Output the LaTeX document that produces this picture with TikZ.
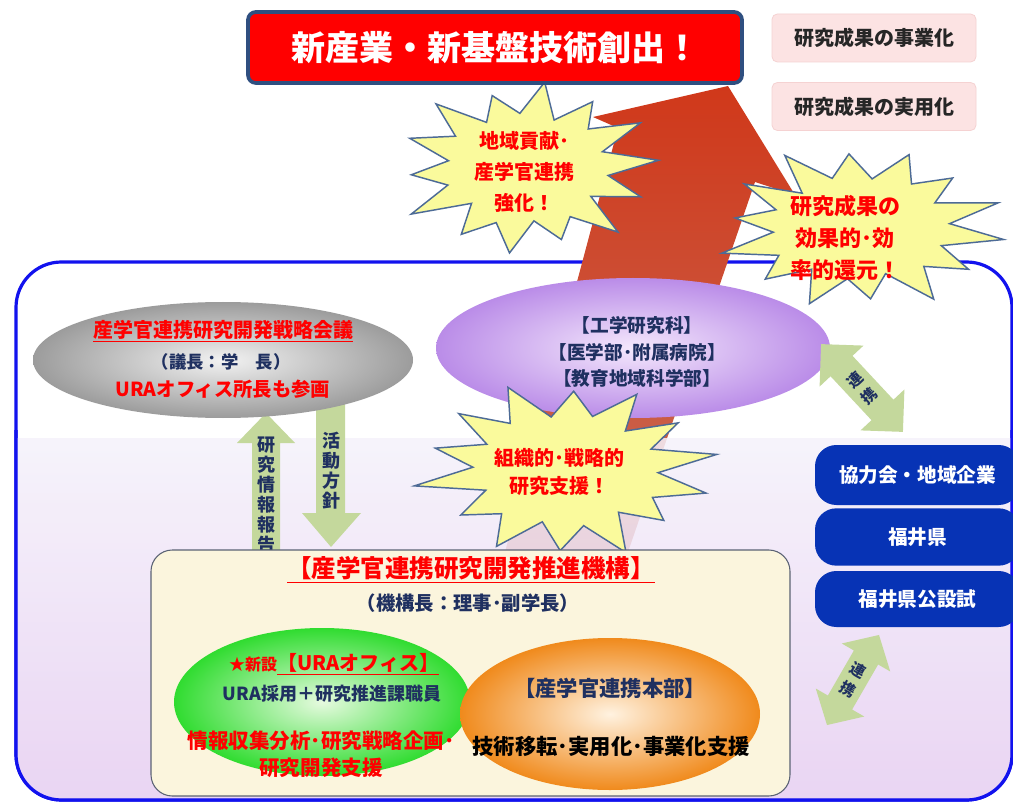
\documentclass[tikz,border=0pt]{standalone}
\usepackage{fontspec}
\setmainfont{Noto Sans CJK JP}
\usetikzlibrary{shapes.geometric}
\definecolor{navy}{HTML}{1F3060}
\definecolor{titleline}{HTML}{2F4F80}
\definecolor{pinkbox}{HTML}{FCE3E3}
\definecolor{pinkline}{HTML}{F5D2D2}
\definecolor{frameblue}{HTML}{1212EE}
\definecolor{arrowtop}{HTML}{D0381A}
\definecolor{arrowbot}{HTML}{C86A55}
\definecolor{bandtop}{HTML}{F5F2FB}
\definecolor{bandbot}{HTML}{E6CDF1}
\definecolor{grayin}{HTML}{F2F2F2}
\definecolor{grayout}{HTML}{9C9C9C}
\definecolor{purin}{HTML}{F4E8FC}
\definecolor{purout}{HTML}{BA8CE8}
\definecolor{greenin}{HTML}{E6FADF}
\definecolor{greenout}{HTML}{30DC30}
\definecolor{orangein}{HTML}{FFF2E0}
\definecolor{orangeout}{HTML}{F08A1C}
\definecolor{beige}{HTML}{FBF5DD}
\definecolor{beigeline}{HTML}{5A6274}
\definecolor{boxblue}{HTML}{0733B5}
\definecolor{burstfill}{HTML}{FAFA9C}
\definecolor{burstline}{HTML}{4D6B96}
\definecolor{arrowgreen}{HTML}{C4D89C}
\newcommand{\starb}[5]{%
  \begin{scope}[shift={#1}, yscale=#3, rotate=#5]
    \draw[burstsh] (0:#2) \foreach \f/\g [count=\i] in {#4} { -- ({(\i-0.5)*360/14}:{\g*#2}) -- ({\i*360/14}:{\f*#2}) } -- cycle;
  \end{scope}}
\tikzset{
  lbl/.style={inner sep=0pt, align=center},
  burstsh/.style={fill=burstfill, draw=burstline, line width=1.1pt, line join=miter, miter limit=20},
  garrow/.style={fill=arrowgreen, draw=none},
  bluebox/.style={rectangle, rounded corners=16pt, fill=boxblue, draw=none, minimum width=153.75pt, text=white, font=\bfseries\fontsize{14.7}{18}\selectfont},
  pinkb/.style={rectangle, rounded corners=4pt, fill=pinkbox, draw=pinkline, line width=0.6pt, minimum width=153pt, minimum height=36pt, text=black!85, font=\bfseries\fontsize{15}{18}\selectfont},
  redt/.style={lbl, text=red, font=\bfseries\fontsize{15}{21}\selectfont},
  navyt/.style={lbl, text=navy, font=\bfseries\fontsize{13.5}{20}\selectfont},
}
\begin{document}
\begin{tikzpicture}[x=0.75pt,y=-0.75pt]
\useasboundingbox (0,0) rectangle (1013,805);
\fill[white] (0,0) rectangle (1013,805);
\clip (0,0) rectangle (1013,805);
% frame
\draw[draw=frameblue, line width=2.4pt, rounded corners=34pt] (16,262) rectangle (1012,800);
% big arrow
\shade[top color=arrowtop, bottom color=arrowbot] (505,552) -- (618,128) -- (593,117) -- (728,86) -- (795,195) -- (755,182) -- (628,552) -- cycle;
% lower band
\begin{scope}
  \clip[rounded corners=34pt] (16,262) rectangle (1012,800);
  \shade[top color=bandtop, bottom color=bandbot, opacity=0.85] (0,438) rectangle (1013,805);
\end{scope}
\begin{scope}
  \clip (0,430) rectangle (1013,805);
  \draw[draw=frameblue, line width=2.4pt, rounded corners=34pt] (16,262) rectangle (1012,800);
\end{scope}
% vertical arrows
\fill[garrow] (266,413) -- (295,443) -- (280,443) -- (280,560) -- (252,560) -- (252,443) -- (237,443) -- cycle;
\fill[garrow] (316,385) -- (345,385) -- (345,513) -- (361,513) -- (331,547) -- (302,513) -- (316,513) -- cycle;
\node[navyt, font=\bfseries\fontsize{13.5}{15}\selectfont] (report) at (266,495) {研\\究\\情\\報\\報\\告};
\node[navyt, font=\bfseries\fontsize{13.5}{15}\selectfont] (policy) at (331,471) {活\\動\\方\\針};
% council ellipse
\node[ellipse, minimum width=285pt, minimum height=87pt, inner sep=0pt, inner color=grayin, outer color=grayout] (council) at (223,360) {};
\node[redt] (c1) at (223,331) {\underline{産学官連携研究開発戦略会議}};
\node[lbl, text=navy, font=\bfseries\fontsize{13}{16}\selectfont] (c2) at (221,362) {（議長：学　長）};
\node[redt, font=\bfseries\fontsize{14.5}{18}\selectfont] (c3) at (223,389) {URAオフィス所長も参画};
% faculties ellipse
\node[ellipse, minimum width=295.5pt, minimum height=105pt, inner sep=0pt, inner color=purin, outer color=purout] (fac) at (633,348) {};
\node[navyt, font=\bfseries\fontsize{14}{20}\selectfont] (fact) at (637,352) {【工学研究科】\\【医学部･附属病院】\\【教育地域科学部】};
% diagonal arrows
\begin{scope}[shift={(862,388)}, rotate=-47]
  \fill[garrow] (-60,0) -- (-30,-30) -- (-30,-15) -- (30,-15) -- (30,-30) -- (60,0) -- (30,30) -- (30,15) -- (-30,15) -- (-30,30) -- cycle;
\end{scope}
\node[navyt, rotate=43, font=\bfseries\fontsize{11.5}{16}\selectfont] (coop1) at (862,388) {連\\携};
\begin{scope}[shift={(853,680)}, rotate=60]
  \fill[garrow] (-52,0) -- (-26,-28) -- (-26,-14) -- (26,-14) -- (26,-28) -- (52,0) -- (26,28) -- (26,14) -- (-26,14) -- (-26,28) -- cycle;
\end{scope}
\node[navyt, rotate=-30, font=\bfseries\fontsize{11.5}{16}\selectfont] (coop2) at (853,680) {連\\携};
% starbursts
\starb{(567,470)}{152}{0.59}{0.95/0.6, 0.85/0.64, 1.0/0.58, 0.9/0.63, 0.97/0.6, 0.86/0.65, 1.02/0.58, 0.9/0.62, 0.95/0.6, 1.0/0.64, 0.88/0.6, 0.96/0.62, 0.9/0.58, 1.0/0.6}{10}
\node[redt, font=\bfseries\fontsize{15}{21}\selectfont] (b3t) at (559,472) {組織的･戦略的\\研究支援！};
\starb{(527,168)}{132}{0.67}{0.92/0.62, 1.0/0.58, 0.85/0.64, 0.97/0.6, 0.9/0.66, 1.02/0.58, 0.88/0.63, 0.95/0.6, 1.0/0.65, 0.86/0.6, 0.98/0.62, 0.9/0.58, 1.0/0.64, 1.0/0.6}{5}
\node[redt, font=\bfseries\fontsize{15}{23}\selectfont] (b1t) at (524,172) {地域貢献･\\産学官連携\\強化！};
\starb{(860,228)}{145}{0.57}{0.9/0.6, 1.0/0.64, 0.86/0.58, 0.98/0.62, 0.9/0.6, 1.0/0.65, 0.87/0.6, 0.96/0.62, 1.02/0.58, 0.9/0.63, 0.95/0.6, 0.88/0.64, 1.0/0.6, 1.0/0.62}{-8}
\node[redt, font=\bfseries\fontsize{16.5}{24}\selectfont] (b2t) at (845,238) {研究成果の\\効果的･効\\率的還元！};
% title
\node[rectangle, rounded corners=6pt, minimum width=370.5pt, minimum height=53.25pt, fill=red, draw=titleline, line width=2.8pt, text=white, font=\bfseries\fontsize{25.5}{30}\selectfont] (goal) at (495,47.5) {新産業・新基盤技術創出！};
\node[pinkb] (biz) at (874,38) {研究成果の事業化};
\node[pinkb] (prac) at (874,106.5) {研究成果の実用化};
% organisation box
\node[rectangle, rounded corners=16pt, minimum width=479.25pt, minimum height=184.5pt, fill=beige, draw=beigeline, line width=0.8pt] (org) at (470.5,673) {};
\node[redt, font=\bfseries\fontsize{18.4}{22}\selectfont] (orgt) at (471,570) {\underline{【産学官連携研究開発推進機構】}};
\node[lbl, text=navy, font=\bfseries\fontsize{14.5}{18}\selectfont] (orgs) at (468,603) {（機構長：理事･副学長）};
\node[ellipse, minimum width=222pt, minimum height=111pt, inner sep=0pt, inner color=greenin, outer color=greenout] (ura) at (322,702) {};
\node[ellipse, minimum width=225pt, minimum height=114pt, inner sep=0pt, inner color=orangein, outer color=orangeout] (hq) at (610,714) {};
\node[lbl, text=red, font=\bfseries\fontsize{15}{18}\selectfont] (urat) at (334,664) {{\fontsize{12}{14}\selectfont ★新設}\underline{【URAオフィス】}};
\node[navyt] (uras) at (332,694) {URA採用＋研究推進課職員};
\node[redt, font=\bfseries\fontsize{15.4}{20}\selectfont] (urar) at (321,754) {情報収集分析･研究戦略企画･\\研究開発支援};
\node[lbl, text=navy, font=\bfseries\fontsize{16}{20}\selectfont] (hqt) at (610,688) {【産学官連携本部】};
\node[lbl, text=black, font=\bfseries\fontsize{16}{20}\selectfont] (hqs) at (611,746) {技術移転･実用化･事業化支援};
% partner boxes
\node[bluebox, minimum height=45pt] (p1) at (917.5,475) {協力会・地域企業};
\node[bluebox, minimum height=43pt] (p2) at (917.5,537) {福井県};
\node[bluebox, minimum height=42pt] (p3) at (917.5,599) {福井県公設試};
\end{tikzpicture}
\end{document}
